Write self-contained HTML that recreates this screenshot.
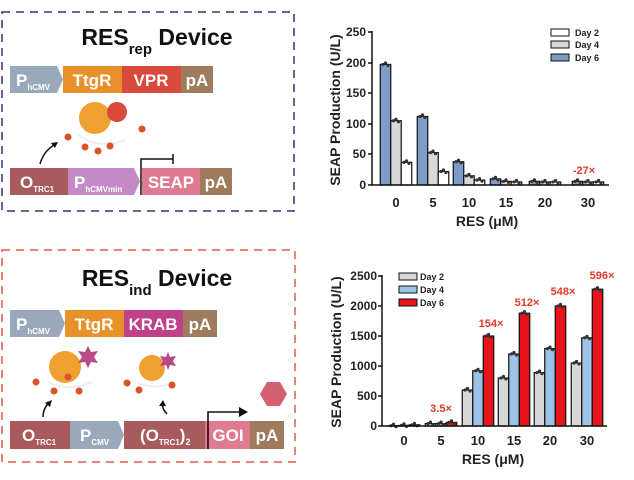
<!DOCTYPE html>
<html><head><meta charset="utf-8"><style>
html,body{margin:0;padding:0;background:#fff;}
svg{display:block;font-family:"Liberation Sans",Arial,sans-serif;}
</style></head><body>
<svg width="634" height="480" viewBox="0 0 634 480" xmlns="http://www.w3.org/2000/svg">
<!-- ===== Top left panel ===== -->
<rect x="2" y="12" width="292" height="199" fill="none" stroke="#33337a" stroke-width="1.5" stroke-dasharray="8,6"/>
<text x="157" y="45" font-size="23" font-weight="bold" text-anchor="middle" fill="#111">RES<tspan font-size="15" dy="9">rep</tspan><tspan dy="-9"> Device</tspan></text>
<polygon points="10,66 57,66 63,79.5 57,93 10,93" fill="#9aa8bb"/>
<text x="16" y="86" font-size="17" font-weight="bold" fill="#fff">P<tspan font-size="8" dy="4">hCMV</tspan></text>
<rect x="63" y="66" width="59" height="27" fill="#e8902a"/>
<text x="92" y="86" font-size="17" font-weight="bold" fill="#fff" text-anchor="middle">TtgR</text>
<rect x="122" y="66" width="59" height="27" fill="#d9493c"/>
<text x="151" y="86" font-size="17" font-weight="bold" fill="#fff" text-anchor="middle">VPR</text>
<rect x="181" y="66" width="32" height="27" fill="#a07a5c"/>
<text x="197" y="86" font-size="17" font-weight="bold" fill="#fff" text-anchor="middle">pA</text>
<circle cx="95" cy="118" r="16" fill="#f0a030"/>
<circle cx="117" cy="112" r="10" fill="#d9493c"/>
<path d="M78,135 Q100,150 125,140" fill="none" stroke="#eee" stroke-width="2"/>
<circle cx="68" cy="137" r="3.5" fill="#d9532a"/><circle cx="85" cy="147" r="3.5" fill="#d9532a"/>
<circle cx="98" cy="151" r="3.5" fill="#d9532a"/><circle cx="110" cy="146" r="3.5" fill="#d9532a"/>
<circle cx="142" cy="129" r="3.5" fill="#d9532a"/>
<path d="M40,164 Q44,150 56,144" fill="none" stroke="#111" stroke-width="1.5"/>
<polygon points="58,142 51,143 55,148" fill="#111"/>
<rect x="10" y="168" width="58" height="27" fill="#a85a5c"/>
<text x="20" y="188" font-size="17" font-weight="bold" fill="#fff">O<tspan font-size="8" dy="4">TRC1</tspan></text>
<polygon points="68,168 134,168 140,181.5 134,195 68,195" fill="#c48ac8"/>
<text x="74" y="188" font-size="17" font-weight="bold" fill="#fff">P<tspan font-size="8" dy="4">hCMVmin</tspan></text>
<rect x="142" y="168" width="58" height="27" fill="#e07a90"/>
<text x="171" y="188" font-size="17" font-weight="bold" fill="#fff" text-anchor="middle">SEAP</text>
<rect x="200" y="168" width="32" height="27" fill="#a07a5c"/>
<text x="216" y="188" font-size="17" font-weight="bold" fill="#fff" text-anchor="middle">pA</text>
<path d="M141,195 V159 H173" fill="none" stroke="#111" stroke-width="1.5"/>
<line x1="173" y1="154" x2="173" y2="164" stroke="#111" stroke-width="1.5"/>

<!-- ===== Bottom left panel ===== -->
<rect x="2" y="250" width="293" height="212" fill="none" stroke="#e0584a" stroke-width="1.5" stroke-dasharray="8,6"/>
<text x="157" y="286" font-size="23" font-weight="bold" text-anchor="middle" fill="#111">RES<tspan font-size="15" dy="9">ind</tspan><tspan dy="-9"> Device</tspan></text>
<polygon points="10,310 59,310 65,323.5 59,337 10,337" fill="#9aa8bb"/>
<text x="16" y="330" font-size="17" font-weight="bold" fill="#fff">P<tspan font-size="8" dy="4">hCMV</tspan></text>
<rect x="65" y="310" width="59" height="27" fill="#e8902a"/>
<text x="94" y="330" font-size="17" font-weight="bold" fill="#fff" text-anchor="middle">TtgR</text>
<rect x="124" y="310" width="59" height="27" fill="#c0408a"/>
<text x="153" y="330" font-size="17" font-weight="bold" fill="#fff" text-anchor="middle">KRAB</text>
<rect x="183" y="310" width="34" height="27" fill="#a07a5c"/>
<text x="200" y="330" font-size="17" font-weight="bold" fill="#fff" text-anchor="middle">pA</text>
<circle cx="65" cy="367" r="16" fill="#f0a030"/>
<polygon points="88,346 91,352 98,351 94,357 98,363 91,362 88,368 85,362 78,363 82,357 78,351 85,352" fill="#b84a8a"/>
<path d="M48,382 Q70,392 92,382" fill="none" stroke="#eee" stroke-width="2"/>
<circle cx="36" cy="382" r="3.5" fill="#d9532a"/><circle cx="54" cy="391" r="3.5" fill="#d9532a"/>
<circle cx="68" cy="377" r="3.5" fill="#d9532a"/><circle cx="79" cy="391" r="3.5" fill="#d9532a"/>
<circle cx="152" cy="368" r="13" fill="#f0a030"/>
<polygon points="168,352 170,357 176,356 173,361 176,366 170,365 168,370 166,365 160,366 163,361 160,356 166,357" fill="#b84a8a"/>
<path d="M138,383 Q155,390 172,383" fill="none" stroke="#eee" stroke-width="2"/>
<circle cx="127" cy="383" r="3.5" fill="#d9532a"/><circle cx="139" cy="390" r="3.5" fill="#d9532a"/><circle cx="172" cy="385" r="3.5" fill="#d9532a"/>
<path d="M43,417 Q43,408 50,402" fill="none" stroke="#111" stroke-width="1.5"/>
<polygon points="52,400 45,403 50,407" fill="#111"/>
<path d="M167,414 Q161,408 163,402" fill="none" stroke="#111" stroke-width="1.5"/>
<polygon points="163,400 159,406 166,406" fill="#111"/>
<polygon points="267,382 280,382 287,394 280,406 267,406 260,394" fill="#d46070"/>
<rect x="10" y="421" width="60" height="28" fill="#a85a5c"/>
<text x="22" y="441" font-size="17" font-weight="bold" fill="#fff">O<tspan font-size="8" dy="4">TRC1</tspan></text>
<polygon points="70,421 118,421 124,435 118,449 70,449" fill="#9aa8bb"/>
<text x="80" y="441" font-size="17" font-weight="bold" fill="#fff">P<tspan font-size="8" dy="4">CMV</tspan></text>
<rect x="124" y="421" width="81" height="28" fill="#a85a5c"/>
<text x="140" y="441" font-size="17" font-weight="bold" fill="#fff">(O<tspan font-size="8" dy="4">TRC1</tspan><tspan dy="-4">)</tspan><tspan font-size="9" dy="4">2</tspan></text>
<rect x="205" y="421" width="45" height="28" fill="#e07a90"/>
<text x="228" y="441" font-size="17" font-weight="bold" fill="#fff" text-anchor="middle">GOI</text>
<rect x="250" y="421" width="34" height="28" fill="#a07a5c"/>
<text x="267" y="441" font-size="17" font-weight="bold" fill="#fff" text-anchor="middle">pA</text>
<path d="M208,449 V412 H240" fill="none" stroke="#111" stroke-width="1.6"/>
<polygon points="248,412 239,407 239,417" fill="#111"/>

<!-- ===== Top chart ===== -->
<g font-weight="bold" fill="#222">
<text transform="translate(340,110) rotate(-90)" font-size="14" text-anchor="middle">SEAP Production (U/L)</text>
<g font-size="12" text-anchor="end">
<text x="366" y="36">250</text><text x="366" y="67">200</text><text x="366" y="97">150</text>
<text x="366" y="128">100</text><text x="366" y="158">50</text><text x="366" y="189">0</text>
</g>
<g font-size="13" text-anchor="middle">
<text x="396" y="207">0</text><text x="433" y="207">5</text><text x="469" y="207">10</text>
<text x="506" y="207">15</text><text x="545" y="207">20</text><text x="588" y="207">30</text>
</g>
<text x="487" y="226" font-size="14" text-anchor="middle">RES (μM)</text>
</g>
<g id="topbars" stroke="#111" stroke-width="1.2"></g>
<line x1="372" y1="31" x2="372" y2="185" stroke="#111" stroke-width="1.5"/>
<line x1="372" y1="185" x2="609" y2="185" stroke="#111" stroke-width="1.5"/>
<g stroke="#111" stroke-width="1.5">
<line x1="368" y1="32" x2="372" y2="32"/><line x1="368" y1="63" x2="372" y2="63"/><line x1="368" y1="93" x2="372" y2="93"/>
<line x1="368" y1="124" x2="372" y2="124"/><line x1="368" y1="154" x2="372" y2="154"/><line x1="368" y1="185" x2="372" y2="185"/>
</g>
<g font-size="9" font-weight="bold" fill="#222">
<rect x="551" y="29" width="18" height="7" fill="#fff" stroke="#111"/><text x="575" y="36">Day 2</text>
<rect x="551" y="41" width="18" height="7" fill="#d8d8d8" stroke="#111"/><text x="575" y="48">Day 4</text>
<rect x="551" y="54" width="18" height="7" fill="#7e9cc8" stroke="#111"/><text x="575" y="61">Day 6</text>
</g>
<text x="584" y="174" font-size="11" font-weight="bold" fill="#e03a2a" text-anchor="middle">-27×</text>

<!-- ===== Bottom chart ===== -->
<g font-weight="bold" fill="#222">
<text transform="translate(341,352) rotate(-90)" font-size="14" text-anchor="middle">SEAP Production (U/L)</text>
<g font-size="12" text-anchor="end">
<text x="377" y="280">2500</text><text x="377" y="310">2000</text><text x="377" y="340">1500</text>
<text x="377" y="370">1000</text><text x="377" y="400">500</text><text x="377" y="430">0</text>
</g>
<g font-size="13" text-anchor="middle">
<text x="404" y="445">0</text><text x="441" y="445">5</text><text x="478" y="445">10</text>
<text x="514" y="445">15</text><text x="550" y="445">20</text><text x="587" y="445">30</text>
</g>
<text x="493" y="464" font-size="14" text-anchor="middle">RES (μM)</text>
</g>
<g id="botbars" stroke="#111" stroke-width="1.2"></g>
<line x1="382" y1="275" x2="382" y2="426" stroke="#111" stroke-width="1.5"/>
<line x1="382" y1="426" x2="607" y2="426" stroke="#111" stroke-width="1.5"/>
<g stroke="#111" stroke-width="1.5">
<line x1="378" y1="276" x2="382" y2="276"/><line x1="378" y1="306" x2="382" y2="306"/><line x1="378" y1="336" x2="382" y2="336"/>
<line x1="378" y1="366" x2="382" y2="366"/><line x1="378" y1="396" x2="382" y2="396"/><line x1="378" y1="426" x2="382" y2="426"/>
</g>
<g font-size="9" font-weight="bold" fill="#222">
<rect x="399" y="273" width="18" height="7" fill="#d8d8d8" stroke="#111"/><text x="420" y="280">Day 2</text>
<rect x="399" y="286" width="18" height="7" fill="#9dc3e6" stroke="#111"/><text x="420" y="293">Day 4</text>
<rect x="399" y="299" width="18" height="7" fill="#e8141b" stroke="#111"/><text x="420" y="306">Day 6</text>
</g>
<g font-size="11" font-weight="bold" fill="#e03a2a" text-anchor="middle">
<text x="441" y="412">3.5×</text><text x="491" y="327">154×</text><text x="527" y="306">512×</text>
<text x="563" y="295">548×</text><text x="602" y="279">596×</text>
</g>
<script>
(function(){
var NS="http://www.w3.org/2000/svg";
function bars(gid,centers,vals,cols,y0,scale,w){
 var g=document.getElementById(gid);
 centers.forEach(function(c,i){
  vals[i].forEach(function(v,j){
   var x=c-1.5*w+j*w, h=v*scale, y=y0-h;
   var r=document.createElementNS(NS,"rect");
   r.setAttribute("x",x);r.setAttribute("y",y);r.setAttribute("width",w);r.setAttribute("height",h);
   r.setAttribute("fill",cols[j]);g.appendChild(r);
   for(var k=-1;k<=1;k++){var d=document.createElementNS(NS,"circle");
    d.setAttribute("cx",x+w/2+k*2.5);d.setAttribute("cy",y-(k==0?1.5:0)+ (k==1?1:0));d.setAttribute("r",1.6);
    d.setAttribute("fill","#333");d.setAttribute("stroke","none");g.appendChild(d);}
  });
 });
}
bars("topbars",[396,433,469,506,545,588],
 [[197,105,37],[112,53,22],[38,15,8],[10,6,5],[6,5,5],[6,5,5]],
 ["#7e9cc8","#d8d8d8","#ffffff"],185,0.612,10.5);
bars("botbars",[404,441,478,514,550,587],
 [[5,10,20],[40,40,60],[600,920,1500],[800,1200,1880],[890,1290,2000],[1050,1470,2280]],
 ["#d8d8d8","#9dc3e6","#e8141b"],426,0.06,10.5);
})();
</script>
</svg>
</body></html>
